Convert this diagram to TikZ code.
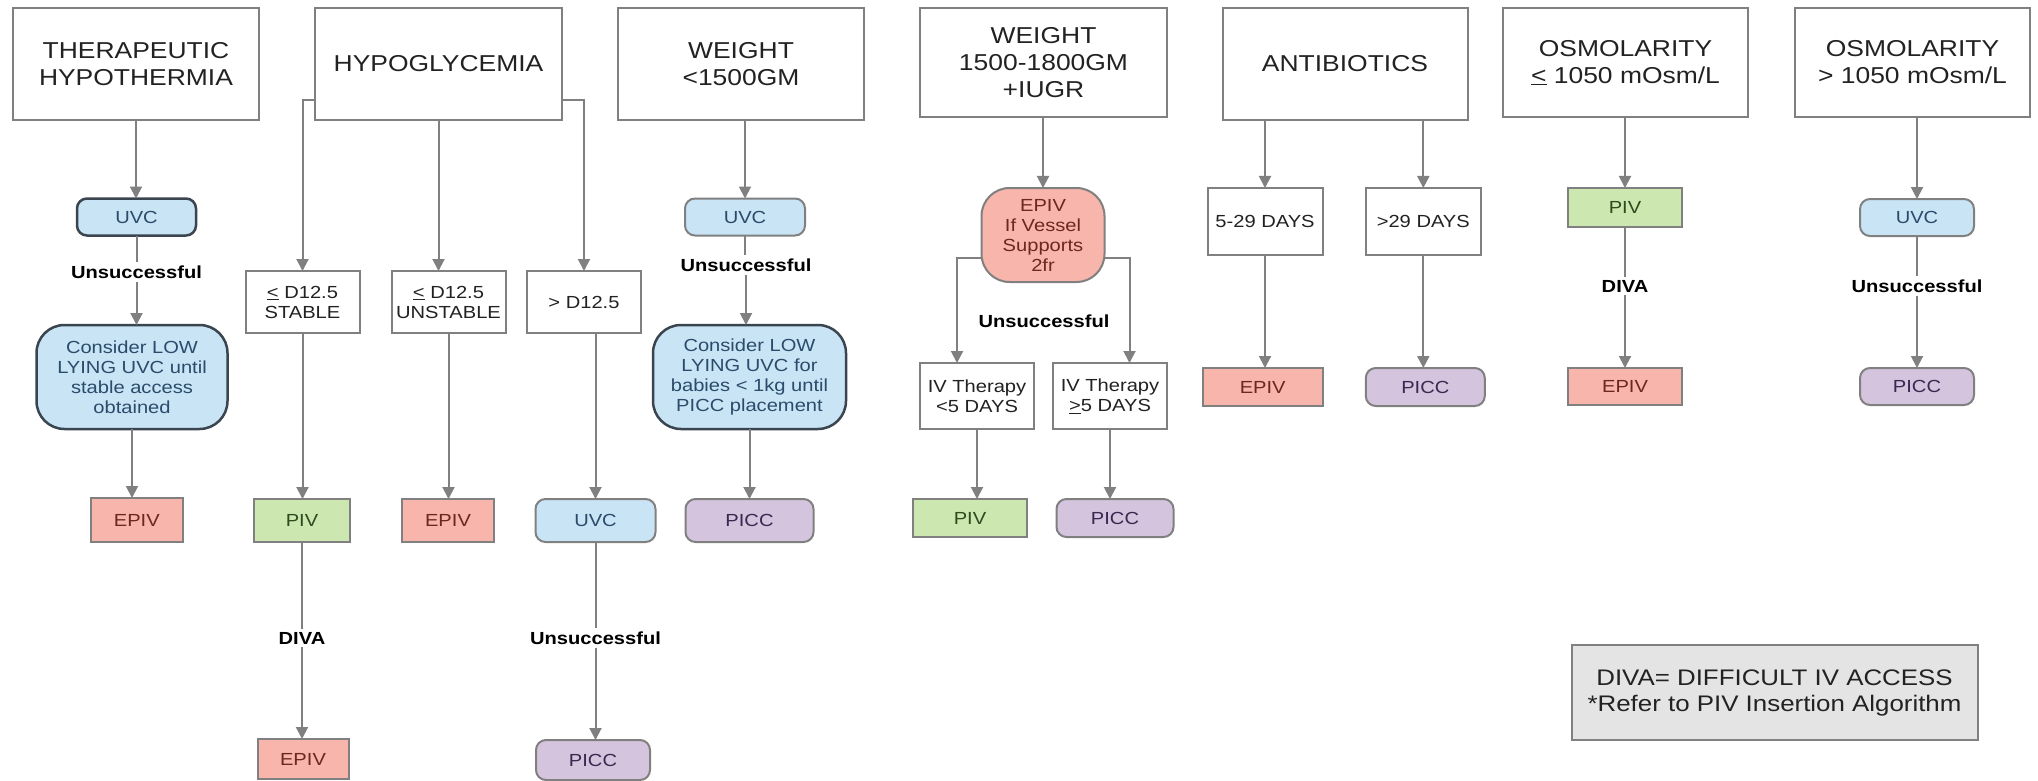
\documentclass[tikz,border=0pt]{standalone}
\usepackage{fontspec}
\setmainfont{Liberation Sans}[FakeStretch=1.15]
\usetikzlibrary{arrows.meta}
\definecolor{lgray}{HTML}{808080}
\definecolor{bluef}{HTML}{C9E4F5}
\definecolor{bluet}{HTML}{2B4B6B}
\definecolor{bluedark}{HTML}{3A4550}
\definecolor{salf}{HTML}{F7B5AC}
\definecolor{salt}{HTML}{6E2620}
\definecolor{grnf}{HTML}{CDE7B0}
\definecolor{grnt}{HTML}{2F4A1E}
\definecolor{purf}{HTML}{D5C4DD}
\definecolor{purt}{HTML}{3A2850}
\definecolor{legf}{HTML}{E4E4E4}
\definecolor{txt}{HTML}{222222}
\newcommand\hdrfont{\fontsize{23}{27}\selectfont}
\newcommand\smfont{\fontsize{17.5}{20}\selectfont}
\newcommand\lgfont{\fontsize{22.5}{26}\selectfont}
\begin{document}
\begin{tikzpicture}[x=1pt,y=-1pt,
 base/.style={inner sep=0pt, outer sep=0pt, align=center, line width=2pt},
 hdr/.style={base, draw=lgray, fill=white, text=txt, font=\hdrfont},
 sq/.style={base, draw=lgray, fill=white, text=txt, font=\smfont},
 uvc/.style={base, draw=lgray, fill=bluef, text=bluet, font=\smfont, rounded corners=10pt},
 uvcd/.style={uvc, draw=bluedark, line width=2.5pt},
 big/.style={base, draw=bluedark, line width=2.5pt, fill=bluef, text=bluet, font=\smfont, rounded corners=28pt},
 epiv/.style={base, draw=lgray, fill=salf, text=salt, font=\smfont},
 piv/.style={base, draw=lgray, fill=grnf, text=grnt, font=\smfont},
 picc/.style={base, draw=lgray, fill=purf, text=purt, font=\smfont, rounded corners=10pt},
 lbl/.style={inner sep=3pt, font=\smfont\bfseries, text=black},
 sz/.style 2 args={minimum width=#1pt, minimum height=#2pt},
 ln/.style={draw=lgray, line width=2pt},
 arr/.style={ln, -{Triangle[width=12pt,length=12pt]}},
]
\fill[white] (0,0) rectangle (2038,781);
\useasboundingbox (0,0) rectangle (2038,781);

% headers
\node[hdr, sz={246}{112}] (th) at (136,64) {THERAPEUTIC\\HYPOTHERMIA};
\node[hdr, sz={247}{112}] (hypo) at (438.5,64) {HYPOGLYCEMIA};
\node[hdr, sz={246}{112}] (w1) at (741,64) {WEIGHT\\<1500GM};
\node[hdr, sz={247}{109}] (w2) at (1043.5,62.5) {WEIGHT\\1500-1800GM\\+IUGR};
\node[hdr, sz={245}{112}] (anti) at (1345,64) {ANTIBIOTICS};
\node[hdr, sz={245}{109}] (os1) at (1625.5,62.5) {OSMOLARITY\\\underline{<} 1050 mOsm/L};
\node[hdr, sz={235}{109}] (os2) at (1912.5,62.5) {OSMOLARITY\\> 1050 mOsm/L};

% column 1
\node[uvcd, sz={119}{37}] (uvc1) at (136.5,217) {UVC};
\node[lbl] (u1) at (136.5,272) {Unsuccessful};
\node[big, sz={191}{104}] (con1) at (132,377) {Consider LOW\\LYING UVC until\\stable access\\obtained};
\node[epiv, sz={92}{44}] (e1) at (136.8,520) {EPIV};

% column 2
\node[sq, sz={114}{62}] (st) at (302.5,302) {\underline{<} D12.5\\STABLE};
\node[sq, sz={114}{62}] (un) at (448.5,302) {\underline{<} D12.5\\UNSTABLE};
\node[sq, sz={114}{62}] (gt) at (584,302) {> D12.5};
\node[piv, sz={96}{43}] (p2) at (302,520.5) {PIV};
\node[epiv, sz={92}{43}] (e2) at (448,520.5) {EPIV};
\node[uvc, sz={120}{43}] (uvc2) at (595.5,520.5) {UVC};
\node[lbl] (d2) at (302,638) {DIVA};
\node[epiv, sz={91}{40}] (e3) at (303,759) {EPIV};
\node[lbl] (u2) at (595.5,638) {Unsuccessful};
\node[picc, sz={114}{40}] (pc2) at (593,760) {PICC};

% column 3
\node[uvc, sz={120}{37}] (uvc3) at (745,217) {UVC};
\node[lbl] (u3) at (746,265) {Unsuccessful};
\node[big, sz={193}{104}] (con3) at (749.5,377) {Consider LOW\\LYING UVC for\\babies < 1kg until\\PICC placement};
\node[picc, sz={128}{43}] (pc3) at (749.5,520.5) {PICC};

% column 4
\node[epiv, sz={123}{94}, rounded corners=28pt] (eb) at (1043,235) {EPIV\\If Vessel\\Supports\\2fr};
\node[lbl] (u4) at (1044,321) {Unsuccessful};
\node[sq, sz={114}{66}] (ivA) at (977,396) {IV Therapy\\<5 DAYS};
\node[sq, sz={114}{66}] (ivB) at (1110,396) {IV Therapy\\\underline{>}5 DAYS};
\node[piv, sz={114}{38}] (p4) at (970,518) {PIV};
\node[picc, sz={117}{38}] (pc4) at (1115,518) {PICC};

% column 5
\node[sq, sz={115}{67}] (d1) at (1265,221.5) {5-29 DAYS};
\node[sq, sz={115}{67}] (d2x) at (1423.3,221.5) {>29 DAYS};
\node[epiv, sz={120}{38}] (e5) at (1262.7,387) {EPIV};
\node[picc, sz={119}{38}] (pc5) at (1425.3,387) {PICC};

% column 6
\node[piv, sz={114}{39}] (p6) at (1625,207.5) {PIV};
\node[lbl] (d6) at (1625,286) {DIVA};
\node[epiv, sz={114}{37}] (e6) at (1625,386.5) {EPIV};

% column 7
\node[uvc, sz={114}{37}] (uvc7) at (1917,217.5) {UVC};
\node[lbl] (u7) at (1917,286) {Unsuccessful};
\node[picc, sz={114}{37}] (pc7) at (1917,386.5) {PICC};

% legend
\node[base, draw=lgray, fill=legf, text=txt, font=\lgfont, sz={406}{95}] (leg) at (1774.5,692.5) {DIVA= DIFFICULT IV ACCESS\\*Refer to PIV Insertion Algorithm};

% connectors
\draw[arr] (th.south) -- (th.south |- uvc1.north);
\draw[ln] (uvc1.south) -- (u1.north);
\draw[arr] (u1.south) -- (u1.south |- con1.north);
\draw[arr] (con1.south) -- (con1.south |- e1.north);

\draw[arr] ([yshift=-36pt]hypo.west) -| (st.north);
\draw[arr] (hypo.south) -- (hypo.south |- un.north);
\draw[arr] ([yshift=-36pt]hypo.east) -| (gt.north);
\draw[arr] (st.south) -- (st.south |- p2.north);
\draw[arr] (un.south) -- (un.south |- e2.north);
\draw[arr] (gt.south -| uvc2.north) -- (uvc2.north);
\draw[ln] (p2.south) -- (p2.south |- d2.north);
\draw[arr] (d2.south) -- (d2.south |- e3.north);
\draw[ln] (uvc2.south) -- (uvc2.south |- u2.north);
\draw[arr] (u2.south) -- (u2.south |- pc2.north);

\draw[arr] (w1.south -| uvc3.north) -- (uvc3.north);
\draw[ln] (uvc3.south) -- (uvc3.south |- u3.north);
\draw[arr] (u3.south) -- (u3.south |- con3.north);
\draw[arr] (con3.south) -- (con3.south |- pc3.north);

\draw[arr] (w2.south -| eb.north) -- (eb.north);
\draw[arr] ([yshift=-23pt]eb.west) -| ([xshift=-20pt]ivA.north);
\draw[arr] ([yshift=-23pt]eb.east) -| ([xshift=19.5pt]ivB.north);
\draw[arr] (ivA.south) -- (ivA.south |- p4.north);
\draw[arr] (ivB.south) -- (ivB.south |- pc4.north);

\draw[arr] (anti.south -| d1.north) -- (d1.north);
\draw[arr] (anti.south -| d2x.north) -- (d2x.north);
\draw[arr] (d1.south) -- (d1.south |- e5.north);
\draw[arr] (d2x.south) -- (d2x.south |- pc5.north);

\draw[arr] (os1.south -| p6.north) -- (p6.north);
\draw[ln] (p6.south) -- (d6.north);
\draw[arr] (d6.south) -- (e6.north);

\draw[arr] (os2.south -| uvc7.north) -- (uvc7.north);
\draw[ln] (uvc7.south) -- (u7.north);
\draw[arr] (u7.south) -- (pc7.north);
\end{tikzpicture}
\end{document}
